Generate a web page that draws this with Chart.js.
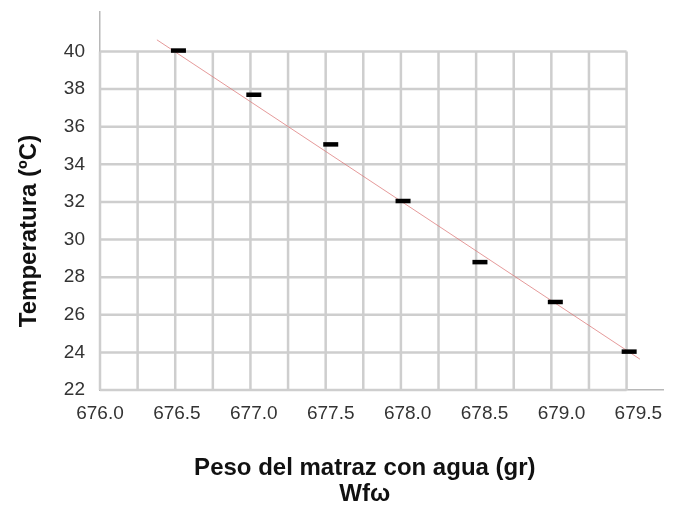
<!DOCTYPE html>
<html>
<head>
<meta charset="utf-8">
<script src="https://cdn.jsdelivr.net/npm/chart.js@4.4.1/dist/chart.umd.min.js"></script>
<style>
  html, body { margin: 0; padding: 0; background: #fff; }
  #wrap { width: 678px; height: 515px; }
</style>
</head>
<body>
<div id="wrap"><canvas id="chart"></canvas></div>
<script>
// datos
const pesoAgua = [676.51, 677.00, 677.50, 677.97, 678.47, 678.96, 679.44];
const temperatura = [40.05, 37.70, 35.06, 32.05, 28.80, 26.68, 24.04];
// recta de ajuste (extremos)
const ajusteX = [676.37, 679.51];
const ajusteY = [40.62, 23.64];
const xTicks = [676.0, 676.5, 677.0, 677.5, 678.0, 678.5, 679.0, 679.5];
const yTicks = [22, 24, 26, 28, 30, 32, 34, 36, 38, 40];
const gridCols = 14;

const FONT = "'Liberation Sans', Arial, sans-serif";
const TICK_FONT = "'Liberation Sans Narrow', 'Arial Narrow', 'Liberation Sans', sans-serif";

// cuadricula de fondo (tipo papel milimetrado)
const paperGrid = {
  id: 'paperGrid',
  beforeDatasetsDraw(chart) {
    const { ctx, scales: { x, y } } = chart;
    const top = y.getPixelForValue(yTicks[yTicks.length - 1]);
    const bottom = y.getPixelForValue(yTicks[0]);
    const cell = (bottom - top) / (yTicks.length - 1);
    const left = x.getPixelForValue(xTicks[0]);
    const right = left + gridCols * cell;
    ctx.save();
    ctx.strokeStyle = '#cecece';
    ctx.lineWidth = 2.5;
    ctx.beginPath();
    yTicks.forEach(v => {
      const py = y.getPixelForValue(v);
      ctx.moveTo(left, py);
      ctx.lineTo(right, py);
    });
    for (let i = 0; i <= gridCols; i++) {
      const px = left + i * cell;
      ctx.moveTo(px, top);
      ctx.lineTo(px, bottom);
    }
    ctx.stroke();
    ctx.restore();
  }
};

const ctx = document.getElementById('chart').getContext('2d');
new Chart(ctx, {
  type: 'scatter',
  data: {
    datasets: [
      {
        label: 'Temperatura',
        data: pesoAgua.map((v, i) => ({ x: v, y: temperatura[i] })),
        pointStyle: 'line',
        pointRadius: 7.5,
        pointBorderWidth: 4.5,
        borderColor: '#000',
        backgroundColor: '#000'
      },
      {
        type: 'line',
        label: 'Ajuste',
        data: ajusteX.map((v, i) => ({ x: v, y: ajusteY[i] })),
        borderColor: 'rgba(220, 120, 120, 0.75)',
        borderWidth: 1,
        pointRadius: 0,
        fill: false
      }
    ]
  },
  options: {
    responsive: true,
    maintainAspectRatio: false,
    animation: false,
    layout: { padding: { top: 0, right: 15, left: 0, bottom: 0 } },
    plugins: {
      legend: { display: false },
      tooltip: { enabled: false }
    },
    scales: {
      x: {
        type: 'linear',
        min: 676,
        max: 679.66,
        afterBuildTicks: s => { s.ticks = xTicks.map(v => ({ value: v })); },
        afterFit: s => {
          s.height = 125;
          s.paddingLeft = 0;
          s.paddingRight = 0;
        },
        grid: { display: false, drawTicks: false },
        border: { display: true, color: '#b8b8b8', width: 1.5 },
        ticks: {
          color: '#333',
          padding: 12,
          font: { family: TICK_FONT, size: 19 },
          callback: v => Number(v).toFixed(1)
        },
        title: {
          display: true,
          text: ['Peso del matraz con agua (gr)     ', 'Wf\u03c9     '],
          color: '#111',
          font: { family: FONT, size: 24, weight: 'bold', lineHeight: 1.1 },
          padding: { top: 0, bottom: 7 }
        }
      },
      y: {
        min: 22,
        max: 42.1,
        afterBuildTicks: s => { s.ticks = yTicks.map(v => ({ value: v })); },
        afterFit: s => {
          s.width = 100;
          s.paddingTop = 0;
          s.paddingBottom = 0;
        },
        grid: { display: false, drawTicks: false },
        border: { display: true, color: '#b8b8b8', width: 1.5 },
        ticks: {
          color: '#333',
          padding: 15,
          font: { family: TICK_FONT, size: 19 },
          callback: v => String(v)
        },
        title: {
          display: true,
          text: 'Temperatura (\u00baC)         ',
          color: '#111',
          font: { family: FONT, size: 24, weight: 'bold', lineHeight: 1.2 },
          padding: { top: 15, bottom: 0 }
        }
      }
    }
  },
  plugins: [paperGrid]
});
</script>
</body>
</html>
